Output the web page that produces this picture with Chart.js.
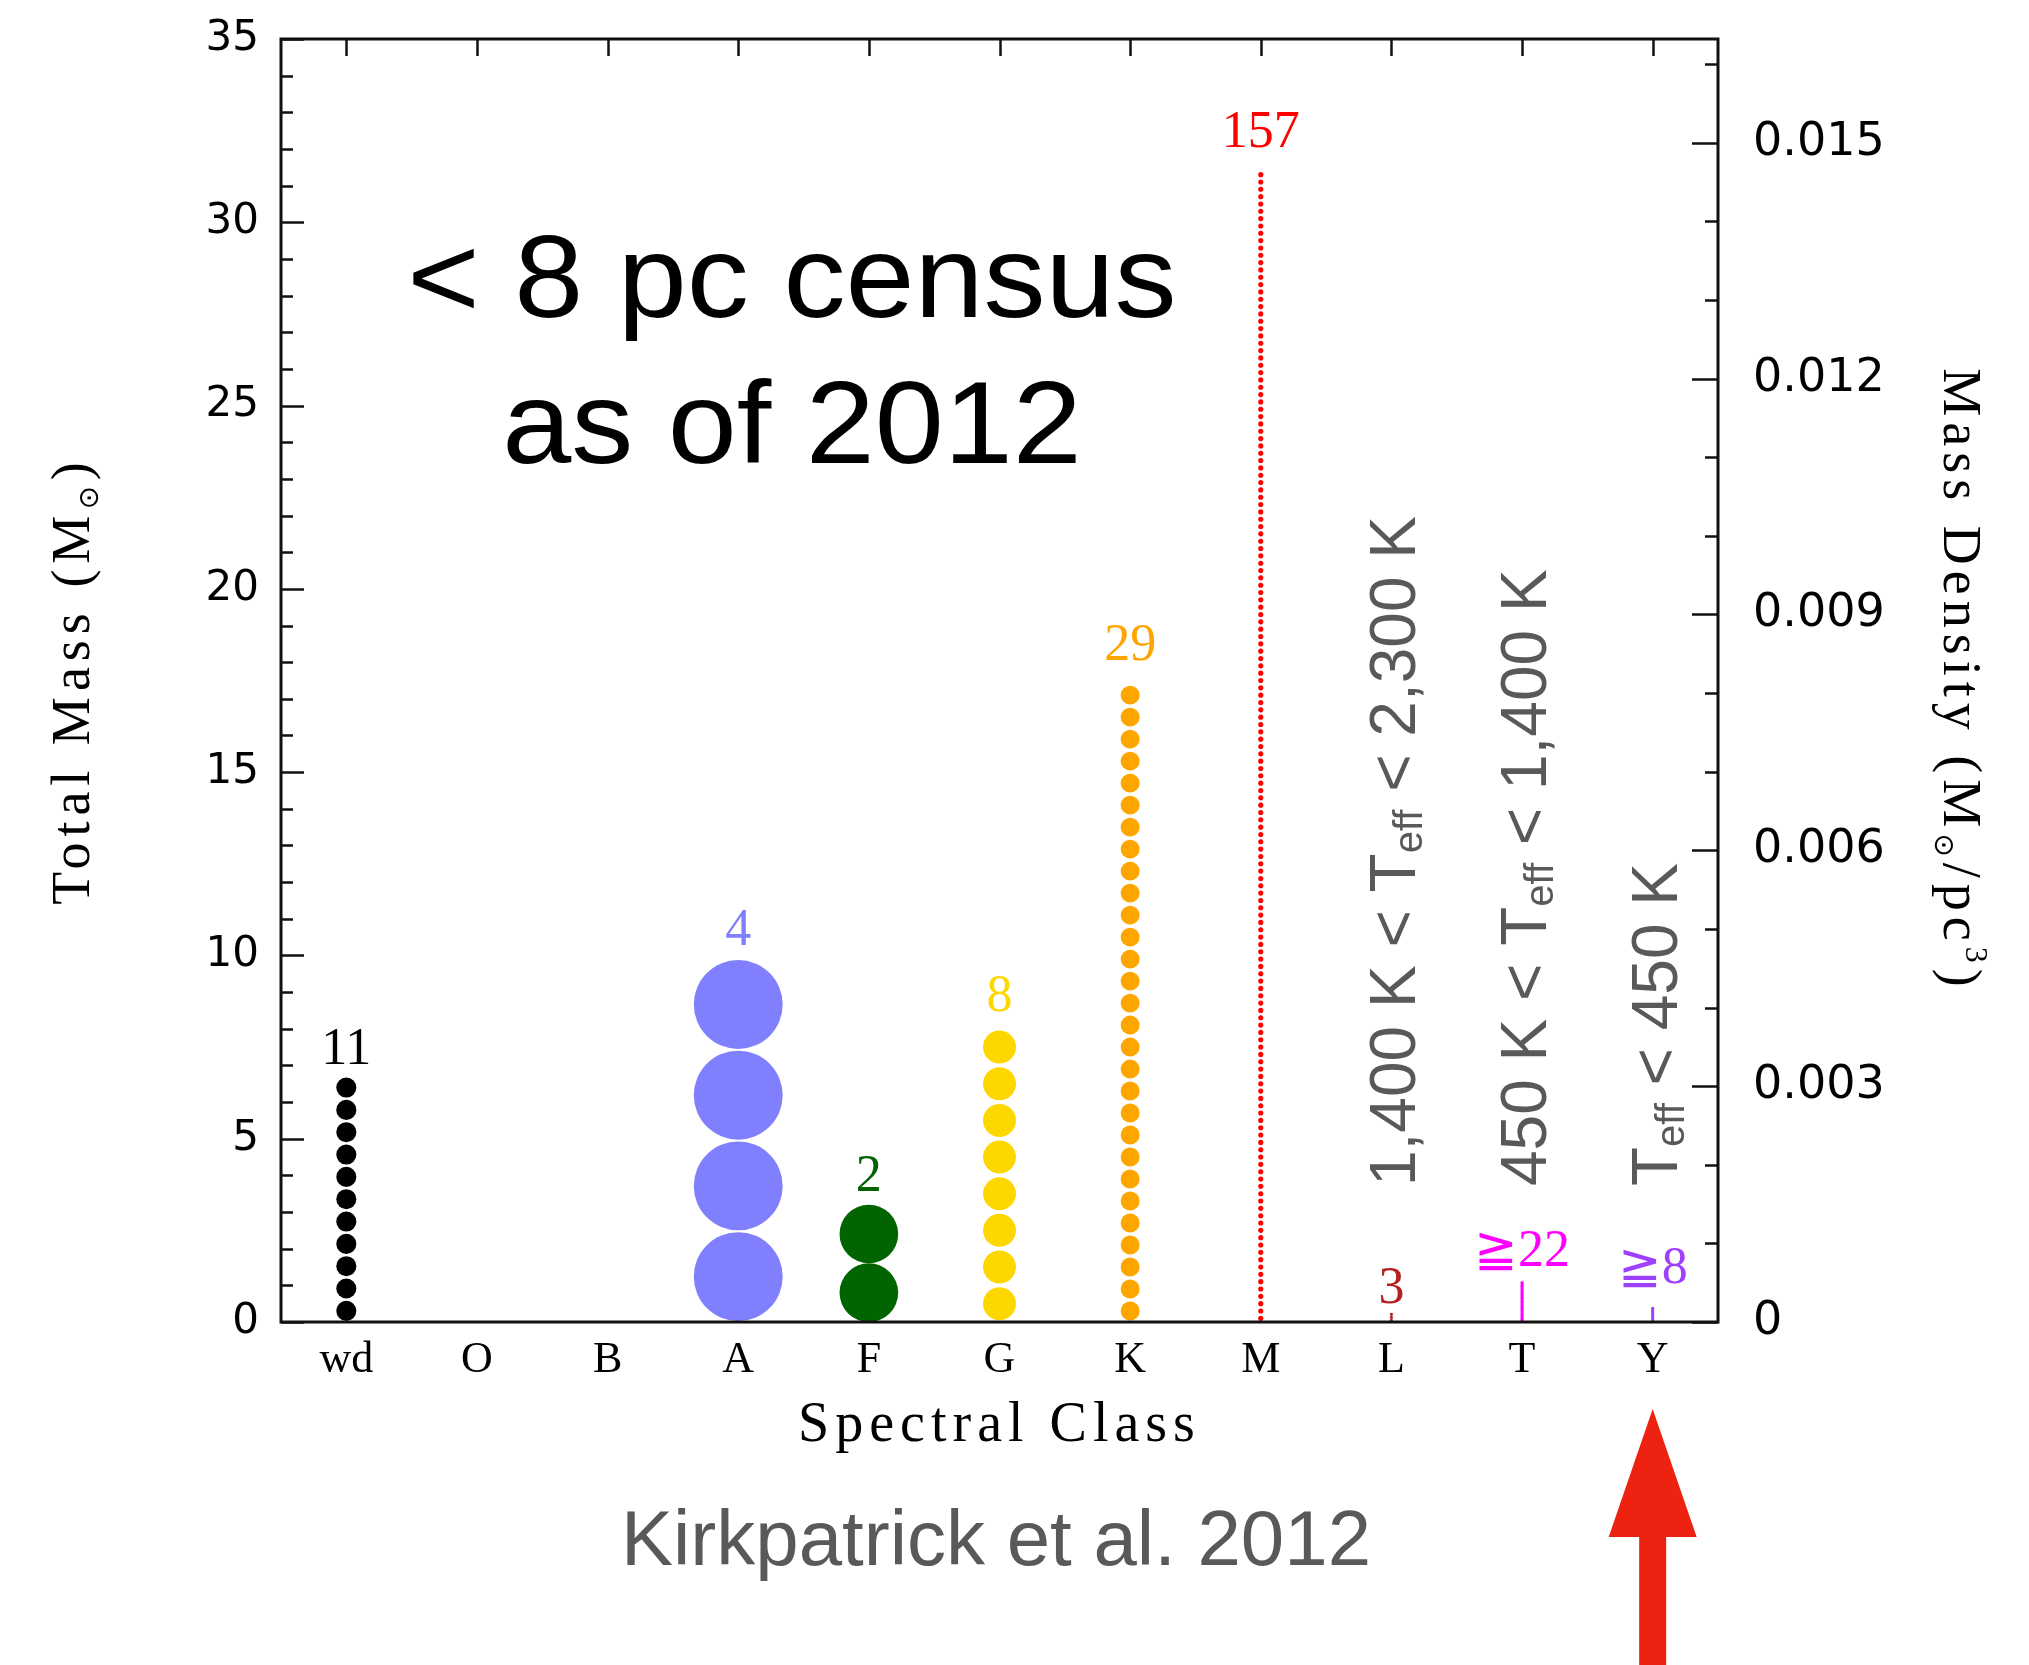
<!DOCTYPE html>
<html><head><meta charset="utf-8">
<script src="https://cdn.jsdelivr.net/npm/chart.js@4"></script>
<style>html,body{margin:0;padding:0;background:#fff;overflow:hidden}canvas{display:block}</style>
</head><body>
<canvas id="c" width="2029" height="1665"></canvas>
<script>
// ---------------- data ----------------
const categories   = ['wd','O','B','A','F','G','K','M','L','T','Y'];
const starCounts   = [11, 0, 0, 4, 2, 8, 29, 157, 3, 22, 8];
const totalMass    = [6.7, 0, 0, 9.9, 3.2, 8.0, 17.4, 31.4, 0.25, 1.1, 0.4];   // solar masses
const countLabels  = ['11','','','4','2','8','29','157','3','≧22','≧8'];
const massTicks    = [0, 5, 10, 15, 20, 25, 30, 35];
const densityTicks = [0, 0.003, 0.006, 0.009, 0.012, 0.015];
const censusRadiusPc = 8;
const tempClasses  = ['L', 'T', 'Y'];
const tempPrefix   = ['1,400 K < T', '450 K < T', 'T'];
const tempSuffix   = [' < 2,300 K', ' < 1,400 K', ' < 450 K'];

// ---------------- styles ----------------
const classColors = ['#000000','#000000','#000000','#8080ff','#006400','#ffd700','#ffa500','#ff0000','#b22222','#ff00ff','#a040ff'];
const dotFill     = [0.9, 1, 1, 0.98, 1.0, 0.9, 0.86, 0.7, 1, 1, 1];
const dotMinR     = [0, 0, 0, 0, 0, 0, 0, 0, 1.6, 1.6, 1.6];
const labelGap    = [12, 0, 0, 14, 14, 18, 24, 24, 10, 16, 24];
const AREA = {left: 281, right: 1718, top: 39, bottom: 1322, W: 2029, H: 1665};

const censusVolume = 4 / 3 * Math.PI * Math.pow(censusRadiusPc, 3);
const yMax = massTicks[massTicks.length - 1];

function stackPoints(i) {
  const n = starCounts[i], m = totalMass[i] / n, pts = [];
  for (let k = 0; k < n; k++) pts.push({x: categories[i], y: (k + 0.5) * m});
  return pts;
}

const datasets = [];
categories.forEach((c, i) => {
  if (!starCounts[i]) return;
  datasets.push({
    label: c,
    data: stackPoints(i),
    pointBackgroundColor: classColors[i],
    pointBorderWidth: 0,
    pointBorderColor: classColors[i],
    showLine: false,
    yAxisID: 'y',
    pointRadius: (ctx) => {
      const s = ctx.chart.scales.y;
      const m = totalMass[i] / starCounts[i];
      const px = s.getPixelForValue(0) - s.getPixelForValue(m);
      return Math.max(dotMinR[i], px / 2 * dotFill[i]);
    }
  });
});

// ---------------- text helpers ----------------
function runsWidth(ctx, runs, ls) {
  let w = 0;
  ctx.letterSpacing = (ls || 0) + 'px';
  runs.forEach(r => { ctx.font = r.font; w += ctx.measureText(r.text).width; });
  return w;
}
function drawRuns(ctx, runs, x, y, align, ls) {
  const w = runsWidth(ctx, runs, ls);
  let cx = align === 'center' ? x - w / 2 : (align === 'right' ? x - w : x);
  ctx.textAlign = 'left';
  ctx.textBaseline = 'alphabetic';
  ctx.letterSpacing = (ls || 0) + 'px';
  runs.forEach(r => {
    ctx.font = r.font;
    ctx.fillText(r.text, cx, y + (r.dy || 0));
    cx += ctx.measureText(r.text).width;
  });
  ctx.letterSpacing = '0px';
}

const SERIF = '"Liberation Serif", "DejaVu Serif", serif';
const SANS = '"Liberation Sans", Arial, sans-serif';

const framePlugin = {
  id: 'frame',
  afterDatasetsDraw(chart) {
    const ctx = chart.ctx, a = chart.chartArea;
    const x = chart.scales.x, y = chart.scales.y, y2 = chart.scales.y2;
    ctx.save();
    ctx.strokeStyle = '#111';
    ctx.lineWidth = 2.5;
    for (let v = 0; v <= yMax; v += 1) {
      const py = Math.round(y.getPixelForValue(v)) + 0.5;
      const len = v % 5 === 0 ? 23 : 12;
      ctx.beginPath(); ctx.moveTo(a.left, py); ctx.lineTo(a.left + len, py); ctx.stroke();
    }
    for (let k = 0; k * 0.001 <= y2.max + 1e-9; k++) {
      const py = Math.round(y2.getPixelForValue(k * 0.001)) + 0.5;
      const len = k % 3 === 0 ? 26 : 13;
      ctx.beginPath(); ctx.moveTo(a.right, py); ctx.lineTo(a.right - len, py); ctx.stroke();
    }
    categories.forEach((c, i) => {
      const px = Math.round(x.getPixelForValue(i)) + 0.5;
      ctx.beginPath(); ctx.moveTo(px, a.top); ctx.lineTo(px, a.top + 17); ctx.stroke();
    });
    ctx.lineWidth = 3;
    ctx.strokeStyle = '#111';
    ctx.strokeRect(a.left, a.top, a.right - a.left, a.bottom - a.top);
    ctx.restore();
  }
};

const annotPlugin = {
  id: 'annot',
  afterDraw(chart) {
    const ctx = chart.ctx, a = chart.chartArea;
    const x = chart.scales.x, y = chart.scales.y;
    ctx.save();
    categories.forEach((c, i) => {
      if (!countLabels[i]) return;
      ctx.fillStyle = classColors[i];
      ctx.font = '52px ' + SERIF;
      ctx.textAlign = 'center';
      ctx.textBaseline = 'alphabetic';
      ctx.fillText(countLabels[i], x.getPixelForValue(i), y.getPixelForValue(totalMass[i]) - labelGap[i]);
    });

    // big overlay text (slightly wide glyphs)
    ctx.fillStyle = '#000';
    ctx.font = '116px ' + SANS;
    ctx.textAlign = 'center';
    ctx.save();
    ctx.translate(792, 0);
    ctx.scale(1.07, 1);
    ctx.fillText('< 8 pc census', 0, 317);
    ctx.fillText('as of 2012', 0, 463);
    ctx.restore();

    ctx.fillStyle = '#595959';
    tempClasses.forEach((c, j) => {
      const idx = categories.indexOf(c);
      ctx.save();
      ctx.translate(x.getPixelForValue(idx) + 24, a.bottom - 136);
      ctx.rotate(-Math.PI / 2);
      drawRuns(ctx, [
        {text: tempPrefix[j], font: '64px ' + SANS},
        {text: 'eff', font: '40px ' + SANS, dy: 7},
        {text: tempSuffix[j], font: '64px ' + SANS}
      ], 0, 0, 'left', 0);
      ctx.restore();
    });

    ctx.fillStyle = '#000';
    ctx.save();
    ctx.translate(71, (a.top + a.bottom) / 2);
    ctx.rotate(-Math.PI / 2);
    drawRuns(ctx, [
      {text: 'Total Mass (M', font: '54px ' + SERIF},
      {text: '⊙', font: '28px "DejaVu Sans", sans-serif', dy: 9},
      {text: ')', font: '54px ' + SERIF}
    ], 0, 18, 'center', 6);
    ctx.restore();

    ctx.save();
    ctx.translate(1962, (a.top + a.bottom) / 2);
    ctx.rotate(Math.PI / 2);
    drawRuns(ctx, [
      {text: 'Mass Density (M', font: '54px ' + SERIF},
      {text: '⊙', font: '28px "DejaVu Sans", sans-serif', dy: 9},
      {text: '/pc', font: '54px ' + SERIF},
      {text: '3', font: '32px ' + SERIF, dy: -22},
      {text: ')', font: '54px ' + SERIF}
    ], 0, 18, 'center', 6);
    ctx.restore();

    ctx.fillStyle = '#000';
    drawRuns(ctx, [{text: 'Spectral Class', font: '56px ' + SERIF}], (a.left + a.right) / 2, 1441, 'center', 6);

    ctx.fillStyle = '#595959';
    ctx.font = '78px ' + SANS;
    ctx.textAlign = 'center';
    ctx.fillText('Kirkpatrick et al. 2012', 996, 1565);

    const ax = x.getPixelForValue(categories.indexOf('Y'));
    const tip = a.bottom + 87, base = a.bottom + 215;
    ctx.fillStyle = '#ee2210';
    ctx.beginPath();
    ctx.moveTo(ax, tip);
    ctx.lineTo(ax + 44, base);
    ctx.lineTo(ax + 13.5, base);
    ctx.lineTo(ax + 13.5, AREA.H);
    ctx.lineTo(ax - 13.5, AREA.H);
    ctx.lineTo(ax - 13.5, base);
    ctx.lineTo(ax - 44, base);
    ctx.closePath();
    ctx.fill();
    ctx.restore();
  }
};

function fixV(w) {
  return s => { s.width = w; s.paddingTop = 0; s.paddingBottom = 0; s.paddingLeft = 0; s.paddingRight = 0; };
}

new Chart(document.getElementById('c'), {
  type: 'scatter',
  data: {datasets},
  options: {
    responsive: false,
    animation: false,
    devicePixelRatio: 1,
    layout: {padding: {top: AREA.top, left: 0, right: 0, bottom: 0}},
    plugins: {legend: {display: false}, tooltip: {enabled: false}},
    scales: {
      x: {
        type: 'category',
        labels: categories,
        offset: true,
        position: 'bottom',
        grid: {display: false, drawTicks: false},
        border: {display: false},
        ticks: {color: '#000', font: {family: 'Liberation Serif', size: 44}, padding: 12, autoSkip: false, maxRotation: 0},
        afterFit: s => { s.height = AREA.H - AREA.bottom; s.paddingLeft = 0; s.paddingRight = 0; s.paddingTop = 0; s.paddingBottom = 0; }
      },
      y: {
        type: 'linear',
        position: 'left',
        min: 0, max: yMax,
        afterBuildTicks: s => { s.ticks = massTicks.map(v => ({value: v})); },
        grid: {display: false, drawTicks: false},
        border: {display: false},
        ticks: {color: '#000', font: {family: 'DejaVu Sans', size: 42}, padding: 22},
        afterFit: fixV(AREA.left)
      },
      y2: {
        type: 'linear',
        position: 'right',
        min: 0, max: yMax / censusVolume,
        afterBuildTicks: s => { s.ticks = densityTicks.map(v => ({value: v})); },
        grid: {display: false, drawTicks: false},
        border: {display: false},
        ticks: {color: '#000', font: {family: 'DejaVu Sans', size: 46}, padding: 35,
                callback: v => v === 0 ? '0' : v.toFixed(3)},
        afterFit: fixV(AREA.W - AREA.right)
      }
    }
  },
  plugins: [framePlugin, annotPlugin]
});
</script>
</body></html>
